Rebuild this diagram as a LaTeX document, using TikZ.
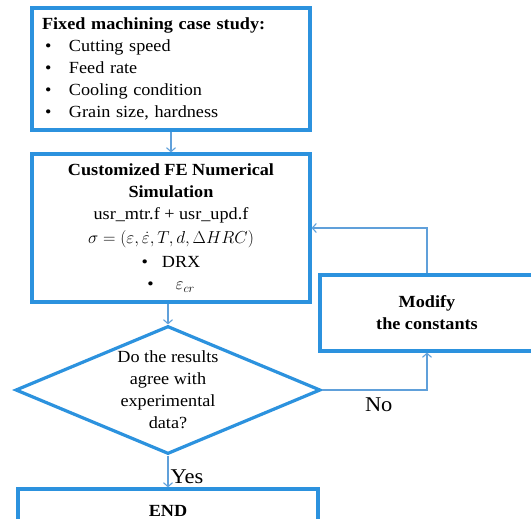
\documentclass[tikz,border=0pt]{standalone}
\usepackage{fontspec}
\setmainfont{Liberation Serif}[FakeStretch=1.07]
\usepackage{xcolor}
\usepackage{tikz}
\usetikzlibrary{shapes.geometric, arrows.meta, positioning}
\definecolor{boxblue}{RGB}{44,146,222}
\definecolor{lineblue}{RGB}{96,160,218}
\newcommand{\bitem}[1]{\hspace*{3pt}\makebox[24pt][l]{\textbullet}#1}
\tikzset{
  % Flowchart styles
  box/.style={rectangle, draw=boxblue, line width=3.2pt, fill=white, text centered, font=\fontsize{17}{22}\selectfont},
  decision/.style={diamond, aspect=2.4, inner sep=0pt, draw=boxblue, line width=3.2pt, fill=white, text centered, align=center, font=\fontsize{17}{22}\selectfont},
  arrow/.style={-{Straight Barb[length=4pt, width=9pt]}, draw=lineblue, line width=1.1pt},
  answer/.style={font=\fontsize{21}{24}\selectfont, inner sep=2pt},
}
\begin{document}
\begin{tikzpicture}[x=1pt, y=-1pt]
    \useasboundingbox (0,0) rectangle (531,519);

    % Case study
    \node[box, minimum width=278pt, minimum height=122pt, text width=258pt, inner xsep=10pt, align=left] (study) at (171,69)
      {\textbf{Fixed machining case study:}\\
       \bitem{Cutting speed}\\
       \bitem{Feed rate}\\
       \bitem{Cooling condition}\\
       \bitem{Grain size, hardness}};

    % FE simulation
    \node[box, minimum width=278pt, minimum height=148pt, align=center] (sim) at (171,228)
      {\textbf{Customized FE Numerical}\\
       \textbf{Simulation}\\
       usr\_mtr.f + usr\_upd.f\\[2pt]
       $\sigma = (\varepsilon, \dot{\varepsilon}, T, d, \Delta HRC)$\\[2pt]
       \textbullet\hspace{14pt}DRX\\
       \textbullet\hspace{22pt}$\varepsilon_{cr}$};

    % Check
    \node[decision, minimum width=305pt, minimum height=128pt] (check) at (168,390)
      {Do the results\\agree with\\experimental\\data?};

    % Modify
    \node[box, minimum width=214pt, minimum height=76pt, align=center] (modify) at (427,313)
      {\textbf{Modify}\\\textbf{the constants}};

    % End
    \node[box, minimum width=300pt, minimum height=44pt] (finish) at (168,511) {\textbf{END}};

    % Arrows
    \draw[arrow] (study) -- (sim);
    \draw[arrow] (sim.south -| check.north) -- (check.north);
    \draw[arrow] (check.south) -- node[answer, right, pos=0.68] {Yes} (finish.north);
    \draw[arrow] (check.east) -| node[answer, below=5pt, pos=0.27] {No} (modify.south);
    \draw[arrow] (modify.north) |- (sim.east);
  \end{tikzpicture}
\end{document}
